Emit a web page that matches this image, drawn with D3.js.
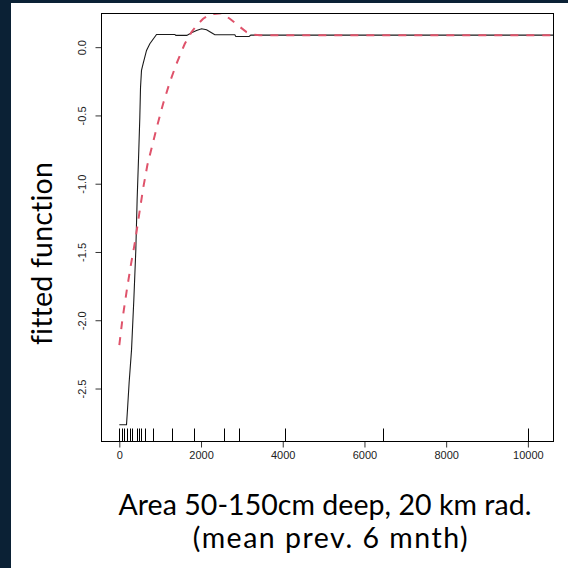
<!DOCTYPE html>
<html>
<head>
<meta charset="utf-8">
<script src="https://cdn.jsdelivr.net/npm/d3@7"></script>
<style>
  html, body { margin: 0; padding: 0; background: #ffffff; }
  svg { display: block; }
  text { font-variant-ligatures: none; font-feature-settings: "liga" 0, "clig" 0; }
</style>
</head>
<body>
<svg id="chart" width="568" height="568"></svg>
<script>
// ---- data ----
const xTicks = [0, 2000, 4000, 6000, 8000, 10000];
const yTicks = [-2.5, -2.0, -1.5, -1.0, -0.5, 0.0];
const yTickLabels = ["-2.5", "-2.0", "-1.5", "-1.0", "-0.5", "0.0"];

// solid black fitted curve
const solidX = [0, 176, 200, 240, 299, 355, 404, 436, 477, 502, 519, 543, 583, 666, 747, 911, 1359, 1383, 1652, 1767, 1890, 2012, 2135, 2257, 2338, 2827, 2852, 3177, 3219, 10620];
const solidY = [-2.765, -2.765, -2.655, -2.458, -2.217, -1.852, -1.486, -1.120, -0.755, -0.514, -0.295, -0.170, -0.121, -0.024, 0.025, 0.093, 0.093, 0.086, 0.086, 0.105, 0.122, 0.135, 0.127, 0.105, 0.091, 0.091, 0.078, 0.078, 0.088, 0.088];

// dashed red fitted curve
const dashX = [0, 73, 184, 282, 392, 490, 588, 686, 796, 918, 1072, 1236, 1400, 1603, 1767, 1890, 2051, 2215, 2502, 2705, 2908, 3114, 3275, 3440, 10620];
const dashY = [-2.182, -2.0, -1.778, -1.596, -1.413, -1.216, -1.026, -0.865, -0.733, -0.587, -0.414, -0.256, -0.121, 0.025, 0.110, 0.159, 0.208, 0.239, 0.249, 0.208, 0.159, 0.110, 0.091, 0.088, 0.088];

// rug of observations
const rugX = [0, 54, 117, 184, 250, 313, 421, 477, 534, 632, 813, 1293, 1831, 2565, 2933, 4051, 6458, 9993];

const yTitle = "fitted function";
const xTitle1 = "Area 50-150cm deep, 20 km rad.";
const xTitle2 = "(mean prev. 6 mnth)";

// ---- layout ----
const svg = d3.select("#chart");
const L = 101.5, R = 553.5, T = 13.5, B = 441.5;

// background navy slide edges
svg.append("rect").attr("x", 0).attr("y", 0).attr("width", 568).attr("height", 3).attr("fill", "#0b2135");
svg.append("rect").attr("x", 0).attr("y", 0).attr("width", 11).attr("height", 568).attr("fill", "#0b2135");

const x = d3.scaleLinear().domain([-436, 10627]).range([L, R]);
const y = d3.scaleLinear().domain([-2.888, 0.2465]).range([B, T]);

svg.append("defs").append("clipPath").attr("id", "clip")
  .append("rect").attr("x", L).attr("y", T).attr("width", R - L).attr("height", B - T);

// axes
const xAxis = d3.axisBottom(x).tickValues(xTicks).tickSize(6).tickPadding(4).tickFormat(d3.format("d"));
const gx = svg.append("g").attr("transform", `translate(0,${B})`).call(xAxis);
gx.select(".domain").remove();
gx.selectAll(".tick line").attr("stroke", "#333");
gx.selectAll(".tick text").attr("fill", "#222").style("font-family", "'Liberation Sans', Arial, sans-serif").style("font-size", "11px");

const yAxis = d3.axisLeft(y).tickValues(yTicks).tickSize(6).tickFormat((d, i) => yTickLabels[i]);
const gy = svg.append("g").attr("transform", `translate(${L},0)`).call(yAxis);
gy.select(".domain").remove();
gy.selectAll(".tick line").attr("stroke", "#333");
gy.selectAll(".tick text")
  .attr("fill", "#222")
  .style("font-family", "'Liberation Sans', Arial, sans-serif").style("font-size", "11px")
  .attr("text-anchor", "middle")
  .attr("x", null).attr("dy", null)
  .attr("transform", "translate(-15.5,0) rotate(-90)");

// rug
svg.append("g").selectAll("line").data(rugX).join("line")
  .attr("x1", d => Math.round(x(d)) + 0.5).attr("x2", d => Math.round(x(d)) + 0.5)
  .attr("y1", B).attr("y2", B - 13)
  .attr("stroke", "#000").attr("stroke-width", 1);

// curves
const plot = svg.append("g").attr("clip-path", "url(#clip)");
const line = d3.line().x(d => x(d[0])).y(d => y(d[1]));

plot.append("path")
  .datum(solidX.map((v, i) => [v, solidY[i]]))
  .attr("d", line)
  .attr("fill", "none").attr("stroke", "#1a1a1a").attr("stroke-width", 1.1);

plot.append("path")
  .datum(dashX.map((v, i) => [v, dashY[i]]))
  .attr("d", line)
  .attr("fill", "none").attr("stroke", "#DF536B").attr("stroke-width", 2)
  .attr("stroke-dasharray", "8,8");

// box
svg.append("rect").attr("x", L).attr("y", T).attr("width", R - L).attr("height", B - T)
  .attr("fill", "none").attr("stroke", "#000").attr("stroke-width", 1);

// titles: fixed size, letter-spacing tuned to the measured widths
const FS = 28.5;
function fitText(sel, target) {
  sel.style("font-size", FS + "px").style("letter-spacing", "0px");
  const txt = sel.text();
  const len = sel.node().getComputedTextLength();
  const ls = (target - len) / Math.max(1, txt.length - 1);
  sel.style("letter-spacing", ls + "px");
}
const tf = "Lato, 'Open Sans', sans-serif";
const yt = svg.append("text").text(yTitle)
  .attr("transform", "translate(52,253.5) rotate(-90)")
  .attr("text-anchor", "middle").attr("fill", "#000").style("font-family", tf);
fitText(yt, 183);

const xt1 = svg.append("text").text(xTitle1)
  .attr("x", 325).attr("y", 515).attr("text-anchor", "middle").attr("fill", "#000").style("font-family", tf);
fitText(xt1, 413);
const xt2 = svg.append("text").text(xTitle2)
  .attr("x", 331).attr("y", 548).attr("text-anchor", "middle").attr("fill", "#000").style("font-family", tf);
fitText(xt2, 275);
</script>
</body>
</html>
